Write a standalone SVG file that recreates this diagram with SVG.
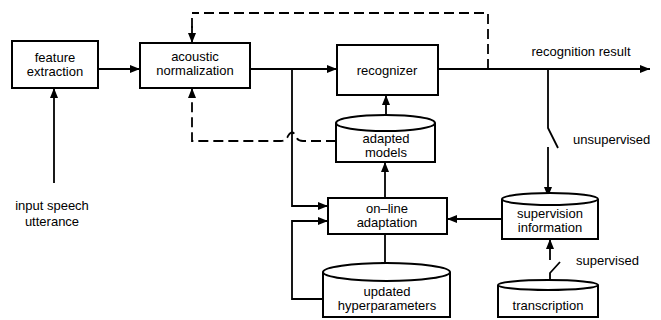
<svg xmlns="http://www.w3.org/2000/svg" width="661" height="320" viewBox="0 0 661 320">
<defs>
<marker id="ah" viewBox="0 0 10 8" refX="10" refY="4" markerWidth="10" markerHeight="8" markerUnits="userSpaceOnUse" orient="auto">
<path d="M0,0 L10,4 L0,8 Z" fill="#000"/>
</marker>
<style>
.b{fill:#fff;stroke:#000;stroke-width:2}
.t{font-family:"Liberation Sans",Arial,Helvetica,sans-serif;font-size:13px;fill:#000;text-anchor:middle}
.l{text-anchor:start}
.c{fill:none;stroke:#000;stroke-width:1.8}
.d{stroke-dasharray:10,5}
.a{marker-end:url(#ah)}
</style>
</defs>
<rect width="661" height="320" fill="#fff"/>
<g id="connectors">
<path class="c a" d="M54,183 L54,88"/>
<path class="c a" d="M98,69 L140,69"/>
<path class="c a" d="M250,69 L337,69"/>
<path class="c a" d="M292,69 L292,206 L328,206"/>
<path class="c a" d="M438,69 L650,69"/>
<path class="c d" d="M488,69 L488,13 L192,13"/>
<path class="c a" d="M192,26 L192,43"/>
<path class="c d" d="M192,18 L192,28"/>
<path class="c d a" d="M336,141 L303,141 Q297,141 296,136 Q292,129 288,136 Q286,141 281,141 L192,141 L192,88"/>
<path class="c a" d="M386,123 L386,95"/>
<path class="c a" d="M385,198 L385,162"/>
<path class="c a" d="M385,234 L385,272"/>
<path class="c a" d="M323,299 L292,299 L292,221 L328,221"/>
<path class="c a" d="M502,219 L447,219"/>
<path class="c" d="M548,69 L548,128 L558,148"/>
<path class="c a" d="M548,147 L548,197"/>
<path class="c" d="M550,285 L550,273 L560,262"/>
<path class="c a" d="M550,260 L550,239"/>
</g>
<g id="feature-extraction">
<rect class="b" x="12" y="41" width="86" height="47"/>
<text class="t" x="55" y="62">feature</text>
<text class="t" x="55" y="76">extraction</text>
</g>
<g id="acoustic-normalization">
<rect class="b" x="140" y="43" width="110" height="45"/>
<text class="t" x="195" y="61">acoustic</text>
<text class="t" x="195" y="75">normalization</text>
</g>
<g id="recognizer">
<rect class="b" x="337" y="45" width="101" height="50"/>
<text class="t" x="387" y="75">recognizer</text>
</g>
<g id="recognition-result">
<text class="t" x="581" y="56">recognition result</text>
</g>
<g id="input-speech">
<text class="t" x="52" y="210">input speech</text>
<text class="t" x="52" y="226">utterance</text>
</g>
<g id="adapted-models">
<path class="b" d="M336,123 L336,162 L435,162 L435,123"/>
<ellipse class="b" cx="385.5" cy="123" rx="49.5" ry="8"/>
<text class="t" x="386" y="143">adapted</text>
<text class="t" x="386" y="157">models</text>
</g>
<g id="online-adaptation">
<rect class="b" x="328" y="198" width="119" height="36"/>
<text class="t" x="387" y="213">on–line</text>
<text class="t" x="387" y="227">adaptation</text>
</g>
<g id="updated-hyperparameters">
<path class="b" d="M323,272 L323,317 L450,317 L450,272"/>
<ellipse class="b" cx="386.5" cy="272" rx="63.5" ry="9"/>
<text class="t" x="387" y="296">updated</text>
<text class="t" x="387" y="310">hyperparameters</text>
</g>
<g id="supervision-information">
<path class="b" d="M502,199 L502,239 L598,239 L598,199"/>
<ellipse class="b" cx="550" cy="199" rx="48" ry="6"/>
<text class="t" x="550" y="218">supervision</text>
<text class="t" x="550" y="232">information</text>
</g>
<g id="transcription">
<path class="b" d="M498,285 L498,317 L598,317 L598,285"/>
<ellipse class="b" cx="548" cy="285" rx="50" ry="5"/>
<text class="t" x="548" y="310">transcription</text>
</g>
<g id="labels">
<text class="t l" x="573" y="144">unsupervised</text>
<text class="t l" x="576" y="265">supervised</text>
</g>
</svg>
